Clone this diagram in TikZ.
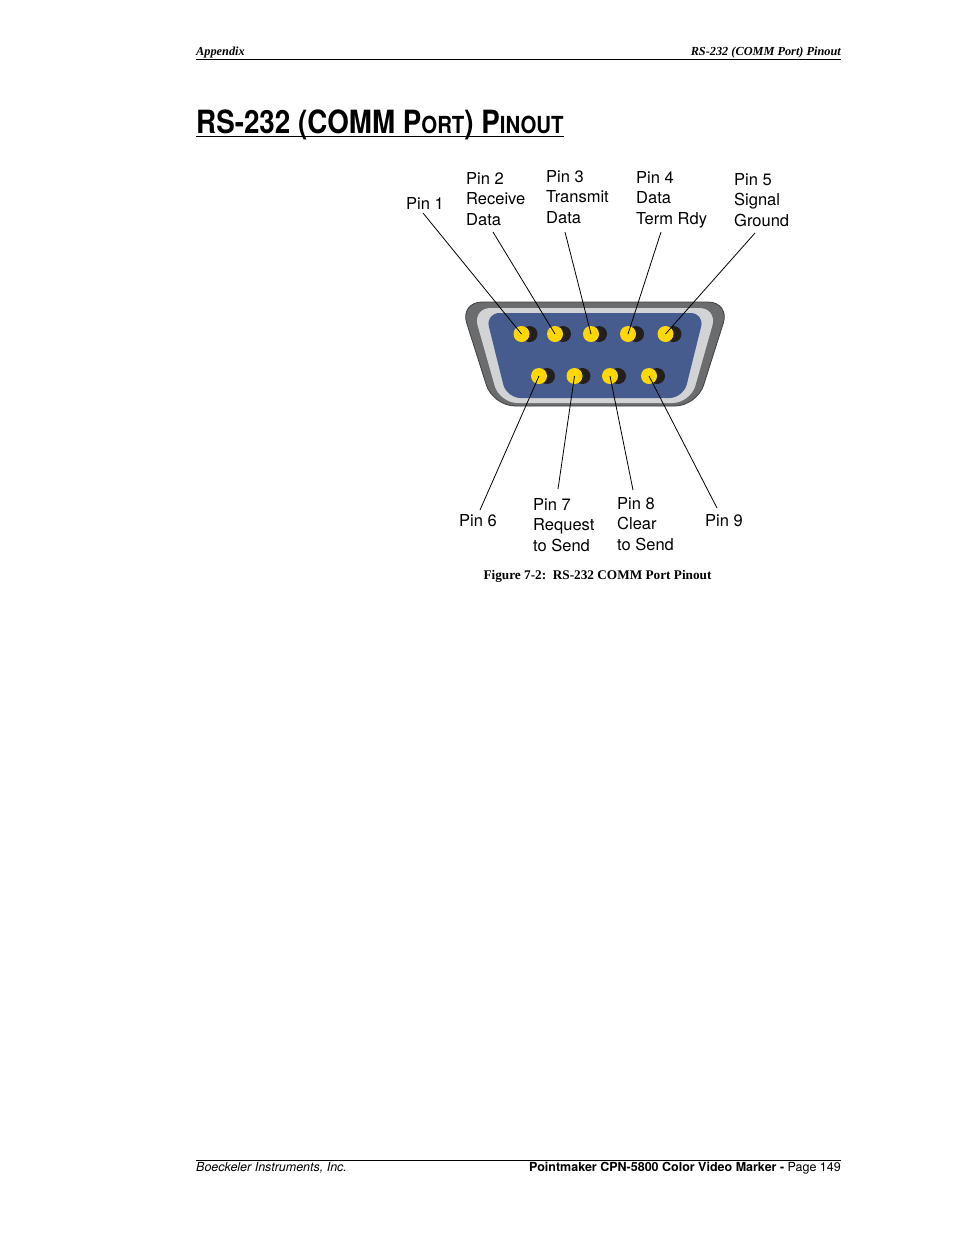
\documentclass[tikz,border=0pt]{standalone}
\usepackage{fontspec}
\usepackage{graphicx}
\setmainfont{Liberation Serif}
\setsansfont{TeX Gyre Heros}
\usetikzlibrary{calc}

\definecolor{shell}{HTML}{6B6C6E}
\definecolor{band}{HTML}{D2D3D5}
\definecolor{face}{HTML}{475C8E}
\definecolor{pinyel}{HTML}{FFD800}
\definecolor{pinshd}{HTML}{231F20}

\begin{document}
\begin{tikzpicture}[x=1pt,y=-1pt,
  lbl/.style={font=\sffamily\fontsize{16.5}{20.2}\selectfont,align=left,inner sep=0pt,anchor=north west},
  pin/.style={circle,fill=pinyel,minimum size=16pt,inner sep=0pt},
  lead/.style={line width=0.8pt}]
  \useasboundingbox (0,0) rectangle (954,1235);

  % page head and foot
  \coordinate (hl) at (196,59); \coordinate (hr) at (841,59);
  \draw[line width=0.6pt] (hl) -- (hr);
  \node(hd1) at (196,55) [anchor=base west,inner sep=0pt] {\fontsize{12.3}{12.3}\selectfont\bfseries\itshape Appendix};
  \node(hd2) at (841,55) [anchor=base east,inner sep=0pt] {\fontsize{12.3}{12.3}\selectfont\bfseries\itshape RS-232 (COMM Port) Pinout};
  \coordinate (fl) at (196,1160); \coordinate (fr) at (841,1160);
  \draw[line width=0.6pt] (fl) -- (fr);
  \node(ft1) at (196,1171) [anchor=base west,inner sep=0pt] {\sffamily\fontsize{12.5}{12.5}\selectfont\itshape Boeckeler Instruments, Inc.};
  \node(ft2) at (841,1171) [anchor=base east,inner sep=0pt] {\sffamily\fontsize{12.5}{12.5}\selectfont\textbf{Pointmaker CPN-5800 Color Video Marker -} Page 149};

  % title
  \node(title) at (196,133) [anchor=base west,inner sep=0pt] {\scalebox{0.868}[1]{\sffamily\bfseries\fontsize{32}{32}\selectfont RS-232 (COMM P{\fontsize{23.5}{23.5}\selectfont ORT}) P{\fontsize{23.5}{23.5}\selectfont INOUT}}};
  \draw[line width=1.8pt] ($(title.base west)+(0,3.5)$) -- ($(title.base east)+(0,3.5)$);

  % connector body
  \filldraw[fill=shell,draw=black!75,line width=0.8pt,rounded corners=22pt] (460,302) -- (730,302) -- (697,406) -- (493,406) -- cycle;
  \fill[band,rounded corners=18pt] (472.7,308) -- (717.3,308) -- (690.5,403) -- (499.5,403) -- cycle;
  \fill[face,rounded corners=14pt] (485.5,313) -- (704.5,313) -- (683.4,398) -- (506.6,398) -- cycle;

  % pins
  \foreach \n/\x in {1/521.5,2/555,3/591,4/628,5/665.5}{
    \fill[pinshd] (\x+8,334) circle (8);
    \node[pin] (p\n) at (\x,334) {};
  }
  \foreach \n/\x in {6/539,7/574.5,8/610,9/649}{
    \fill[pinshd] (\x+8,376) circle (8);
    \node[pin] (p\n) at (\x,376) {};
  }

  % labels
  \node[lbl] (t1) at (406,197) {Pin 1};
  \node[lbl] (t2) at (466,172.5) {Pin 2\\Receive\\Data};
  \node[lbl] (t3) at (546,170.5) {Pin 3\\Transmit\\Data};
  \node[lbl] (t4) at (636,171.5) {Pin 4\\Data\\Term Rdy};
  \node[lbl] (t5) at (734,173.5) {Pin 5\\Signal\\Ground};
  \node[lbl] (t6) at (459,514.5) {Pin 6};
  \node[lbl] (t7) at (533,498.5) {Pin 7\\Request\\to Send};
  \node[lbl] (t8) at (617,497.5) {Pin 8\\Clear\\to Send};
  \node[lbl] (t9) at (705,514.5) {Pin 9};

  % leader lines
  \coordinate (c1) at (423,213); \coordinate (c2) at (493,232);
  \coordinate (c3) at (565,232); \coordinate (c4) at (661,232);
  \coordinate (c5) at (755,233); \coordinate (c6) at (480,510);
  \coordinate (c7) at (558,489); \coordinate (c8) at (633,490);
  \coordinate (c9) at (717,508);
  \foreach \n in {1,...,9}
    \draw[lead] (c\n) -- (p\n.center);

  \node(cap) at (597.5,579) [anchor=base,inner sep=0pt] {\fontsize{13.25}{13.25}\selectfont\bfseries Figure 7-2:\ \ RS-232 COMM Port Pinout};
\end{tikzpicture}
\end{document}
